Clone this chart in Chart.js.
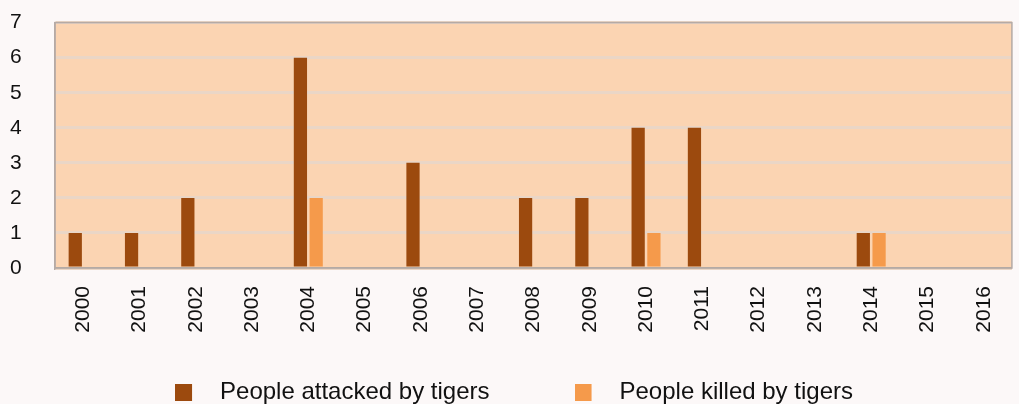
<!DOCTYPE html>
<html>
<head>
<meta charset="utf-8">
<script src="https://cdn.jsdelivr.net/npm/chart.js@4.4.1/dist/chart.umd.min.js"></script>
<style>
    html, body {
        margin: 0;
        padding: 0;
        background: #fcf8f8;
    }
    #wrap {
        width: 1019px;
        height: 404px;
    }
</style>
</head>
<body>
<div id="wrap"><canvas id="chart"></canvas></div>
<script>
const years = [
    "2000", "2001", "2002", "2003", "2004", "2005", "2006", "2007", "2008",
    "2009", "2010", "2011", "2012", "2013", "2014", "2015", "2016"
];

const attacked = [1, 1, 2, 0, 6, 0, 3, 0, 2, 2, 4, 4, 0, 0, 1, 0, 0];

const killed = [0, 0, 0, 0, 2, 0, 0, 0, 0, 0, 1, 0, 0, 0, 1, 0, 0];

const FONT = "'Liberation Sans', Arial, sans-serif";

// legend swatch: a 17px square with empty room to its right,
// so the text sits further from the box than Chart.js does by default
function swatch(color) {
    const c = document.createElement("canvas");
    c.width = 33;
    c.height = 17;
    const g = c.getContext("2d");
    g.fillStyle = color;
    g.fillRect(0, 0, 17, 17);
    return c;
}

// peach fill behind the plot area, grey frame around it
const plotBackground = {
    id: "plotBackground",
    afterLayout(chart) {
        // let the rotated year labels hang below the shortened x axis box
        chart.scales.x.bottom = chart.height;
    },
    beforeDraw(chart) {
        const { ctx, chartArea } = chart;
        ctx.save();
        ctx.fillStyle = "#fbd4b2";
        ctx.fillRect(
            chartArea.left,
            chartArea.top,
            chartArea.right - chartArea.left,
            chartArea.bottom - chartArea.top
        );
        ctx.restore();
    },
    afterDatasetsDraw(chart) {
        const { ctx, chartArea } = chart;
        ctx.save();
        ctx.strokeStyle = "#b5aaa5";
        ctx.lineWidth = 1.5;
        ctx.strokeRect(
            chartArea.left,
            chartArea.top,
            chartArea.right - chartArea.left,
            chartArea.bottom - chartArea.top
        );
        ctx.restore();
    }
};

new Chart(document.getElementById("chart"), {
    type: "bar",
    data: {
        labels: years,
        datasets: [
            {
                label: "People attacked by tigers",
                data: attacked,
                backgroundColor: "#9c4a0e",
                categoryPercentage: 0.56,
                barPercentage: 0.84
            },
            {
                label: "People killed by tigers",
                data: killed,
                backgroundColor: "#f59a4b",
                categoryPercentage: 0.56,
                barPercentage: 0.84
            }
        ]
    },
    plugins: [plotBackground],
    options: {
        responsive: true,
        maintainAspectRatio: false,
        animation: false,
        layout: {
            padding: { top: 0, right: 1, left: 10, bottom: -10 }
        },
        plugins: {
            tooltip: { enabled: false },
            legend: {
                position: "bottom",
                labels: {
                    color: "#111",
                    font: { family: FONT, size: 24 },
                    usePointStyle: true,
                    pointStyleWidth: 33,
                    boxHeight: 17,
                    padding: 85,
                    generateLabels(chart) {
                        const items = Chart.defaults.plugins.legend.labels
                            .generateLabels(chart);
                        items.forEach(item => {
                            item.pointStyle = swatch(item.fillStyle);
                        });
                        return items;
                    }
                }
            }
        },
        scales: {
            x: {
                grid: { display: false },
                border: { color: "#b5aaa5", width: 1.5 },
                ticks: {
                    color: "#111",
                    font: { family: FONT, size: 21 },
                    minRotation: 90,
                    maxRotation: 90,
                    padding: 10
                },
                afterFit(scale) {
                    scale.height = 27;
                }
            },
            y: {
                min: 0,
                max: 7,
                grid: {
                    color: "#ead6c6",
                    lineWidth: 3,
                    drawTicks: false
                },
                border: { color: "#b5aaa5", width: 1.5 },
                ticks: {
                    stepSize: 1,
                    autoSkip: false,
                    color: "#111",
                    font: { family: FONT, size: 21 },
                    padding: 10,
                    crossAlign: "far"
                },
                afterFit(scale) {
                    scale.width = 45;
                }
            }
        }
    }
});
</script>
</body>
</html>
